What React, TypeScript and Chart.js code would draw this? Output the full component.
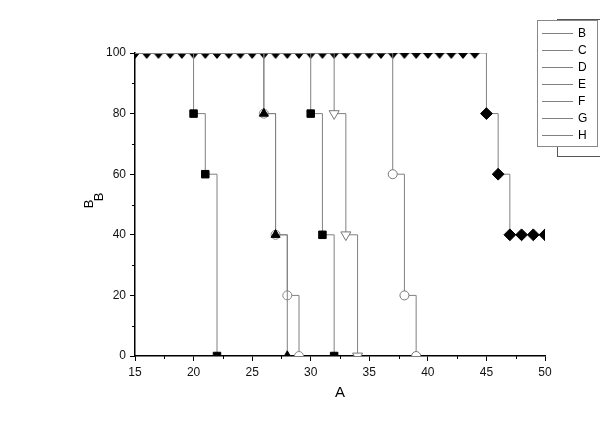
import React, { useEffect, useRef } from 'react';
import { Chart, registerables } from 'chart.js';

Chart.register(...registerables);

// ---------- data ----------
const xValues = [15, 16, 17, 18, 19, 20, 21, 22, 23, 24, 25, 26, 27, 28, 29, 30, 31, 32, 33, 34, 35, 36, 37, 38, 39, 40, 41, 42, 43, 44, 45, 46, 47, 48, 49, 50];
const seriesLabels = ['B', 'C', 'D', 'E', 'F', 'G', 'H'];
const bValues = [100, 100, 100, 100, 100, 80, 60, 0];
const cValues = [100, 100, 100, 100, 100, 100, 100, 100, 100, 100, 100, 80, 40, 0];
const dValues = [100, 100, 100, 100, 100, 100, 100, 100, 100, 100, 100, 80, 40, 20, 0];
const eValues = [100, 100, 100, 100, 100, 100, 100, 100, 100, 100, 100, 100, 100, 100, 100, 80, 40, 0];
const fValues = [100, 100, 100, 100, 100, 100, 100, 100, 100, 100, 100, 100, 100, 100, 100, 100, 100, 80, 40, 0];
const gValues = [100, 100, 100, 100, 100, 100, 100, 100, 100, 100, 100, 100, 100, 100, 100, 100, 100, 100, 100, 100, 100, 100, 60, 20, 0];
const hValues = [100, 100, 100, 100, 100, 100, 100, 100, 100, 100, 100, 100, 100, 100, 100, 100, 100, 100, 100, 100, 100, 100, 100, 100, 100, 100, 100, 100, 100, 100, 80, 60, 40, 40, 40, 40];
const xTicks = [15, 20, 25, 30, 35, 40, 45, 50];
const xMinorTicks = [17.5, 22.5, 27.5, 32.5, 37.5, 42.5, 47.5];
const yTicks = [0, 20, 40, 60, 80, 100];
const yMinorTicks = [10, 30, 50, 70, 90];
const xTitle = 'A';
const yTitle = 'B';
const yTitleSub = 'B';

const FONT = "Arial, 'Liberation Sans', sans-serif";
const LINE = '#808080';

const toPoints = (vals: number[]) => vals.map((y, i) => ({ x: xValues[i], y }));

type Style = { style: string; r: number; fill: string; stroke: string; rot?: number };
const styles: Style[] = [
  { style: 'rect', r: 5.3, fill: '#000', stroke: '#000' },
  { style: 'triangle', r: 5.2, fill: '#000', stroke: '#000' },
  { style: 'circle', r: 4.5, fill: '#fff', stroke: '#888' },
  { style: 'rect', r: 5.3, fill: '#000', stroke: '#000' },
  { style: 'triangle', r: 5.8, fill: '#fff', stroke: '#777', rot: 180 },
  { style: 'circle', r: 4.5, fill: '#fff', stroke: '#777' },
  { style: 'rectRot', r: 5.9, fill: '#000', stroke: '#000' },
];
const seriesValues = [bValues, cValues, dValues, eValues, fValues, gValues, hValues];

function makeHangingTriangle(): HTMLCanvasElement {
  const c = document.createElement('canvas');
  c.width = 12;
  c.height = 14;
  const t = c.getContext('2d')!;
  t.fillStyle = '#000';
  t.beginPath();
  t.moveTo(1, 7);
  t.lineTo(11, 7);
  t.lineTo(6, 13);
  t.closePath();
  t.fill();
  return c;
}

const overlayPlugin = {
  id: 'overlay',
  afterDraw(chart: any) {
    const ctx = chart.ctx as CanvasRenderingContext2D;
    const xs = chart.scales.x;
    const ys = chart.scales.y;
    const area = chart.chartArea;
    ctx.save();
    // minor ticks
    ctx.strokeStyle = '#000';
    ctx.lineWidth = 1;
    ctx.beginPath();
    xMinorTicks.forEach((v) => {
      const px = Math.round(xs.getPixelForValue(v)) + 0.5;
      ctx.moveTo(px, area.bottom);
      ctx.lineTo(px, area.bottom + 3);
    });
    yMinorTicks.forEach((v) => {
      const py = Math.round(ys.getPixelForValue(v)) + 0.5;
      ctx.moveTo(area.left, py);
      ctx.lineTo(area.left - 3, py);
    });
    ctx.stroke();

    // axis titles
    ctx.fillStyle = '#000';
    ctx.font = `15px ${FONT}`;
    ctx.textAlign = 'center';
    ctx.textBaseline = 'middle';
    ctx.fillText(xTitle, (area.left + area.right) / 2, 393);

    ctx.save();
    ctx.translate(89, 204);
    ctx.rotate(-Math.PI / 2);
    ctx.font = `13px ${FONT}`;
    ctx.fillText(yTitle, 0, 0);
    ctx.fillText(yTitleSub, 7, 10);
    ctx.restore();

    // legend (back box then front box)
    const lx = 537, ly = 20, lw = 60, lh = 126;
    ctx.strokeStyle = '#555';
    ctx.lineWidth = 1;
    ctx.fillStyle = '#fff';
    ctx.fillRect(lx + 20, ly - 1, 80, lh + 11);
    ctx.strokeRect(lx + 20 + 0.5, ly - 1 + 0.5, 80, lh + 11);
    ctx.fillRect(lx, ly, lw, lh);
    ctx.strokeStyle = '#888';
    ctx.strokeRect(lx + 0.5, ly + 0.5, lw, lh);
    ctx.font = `12px ${FONT}`;
    ctx.textAlign = 'left';
    ctx.textBaseline = 'middle';
    chart.data.datasets.forEach((ds: any, i: number) => {
      const yy = ly + 13 + i * 17;
      ctx.strokeStyle = ds.borderColor;
      ctx.beginPath();
      ctx.moveTo(lx + 5, Math.round(yy) + 0.5);
      ctx.lineTo(lx + 36, Math.round(yy) + 0.5);
      ctx.stroke();
      ctx.fillStyle = '#000';
      ctx.fillText(ds.label, lx + 41, yy + 0.5);
    });
    ctx.restore();
  },
};

export default function App() {
  const ref = useRef<HTMLCanvasElement | null>(null);
  useEffect(() => {
    if (!ref.current) return;
    const hanging = makeHangingTriangle();
    const datasets = seriesValues.map((vals, i) => {
      const s = styles[i];
      const isH = i === 6;
      return {
        label: seriesLabels[i],
        data: toPoints(vals),
        borderColor: LINE,
        borderWidth: 1,
        stepped: 'before' as const,
        tension: 0,
        fill: false,
        pointStyle: (c: any) => (isH && c.raw && c.raw.y === 100 ? hanging : s.style),
        rotation: s.rot || 0,
        pointRadius: (c: any) => {
          if (!c.raw) return s.r;
          if (c.raw.y === 100) return isH ? 5 : 0;
          return s.r;
        },
        pointBackgroundColor: s.fill,
        pointBorderColor: s.stroke,
        pointBorderWidth: 1,
      };
    });
    const chart = new Chart(ref.current, {
      type: 'line',
      data: { datasets },
      options: {
        animation: false,
        responsive: false,
        events: [],
        layout: { padding: { top: 53, right: 55, left: 0, bottom: 0 } },
        plugins: { legend: { display: false }, tooltip: { enabled: false }, title: { display: false } },
        scales: {
          x: {
            type: 'linear',
            min: 15,
            max: 50,
            afterBuildTicks: (scale: any) => {
              scale.ticks = xTicks.map((v) => ({ value: v }));
            },
            afterFit: (scale: any) => {
              scale.height = 68;
            },
            grid: { drawOnChartArea: false, drawTicks: true, tickLength: 5, color: '#000', lineWidth: 1 },
            border: { display: true, color: '#000', width: 1.5 },
            ticks: { color: '#111', font: { size: 12, family: FONT }, padding: 4, maxRotation: 0, autoSkip: false },
          },
          y: {
            type: 'linear',
            min: 0,
            max: 100,
            afterBuildTicks: (scale: any) => {
              scale.ticks = yTicks.map((v) => ({ value: v }));
            },
            afterFit: (scale: any) => {
              scale.width = 135;
            },
            grid: { drawOnChartArea: false, drawTicks: true, tickLength: 5, color: '#000', lineWidth: 1 },
            border: { display: true, color: '#000', width: 1.5 },
            ticks: { color: '#111', font: { size: 12, family: FONT }, padding: 4 },
          },
        },
      },
      plugins: [overlayPlugin],
    });
    return () => chart.destroy();
  }, []);
  return (
    <div style={{ position: 'fixed', left: 0, top: 0, width: 600, height: 424, background: '#fff' }}>
      <canvas ref={ref} width={600} height={424} style={{ width: 600, height: 424, display: 'block' }} />
    </div>
  );
}
